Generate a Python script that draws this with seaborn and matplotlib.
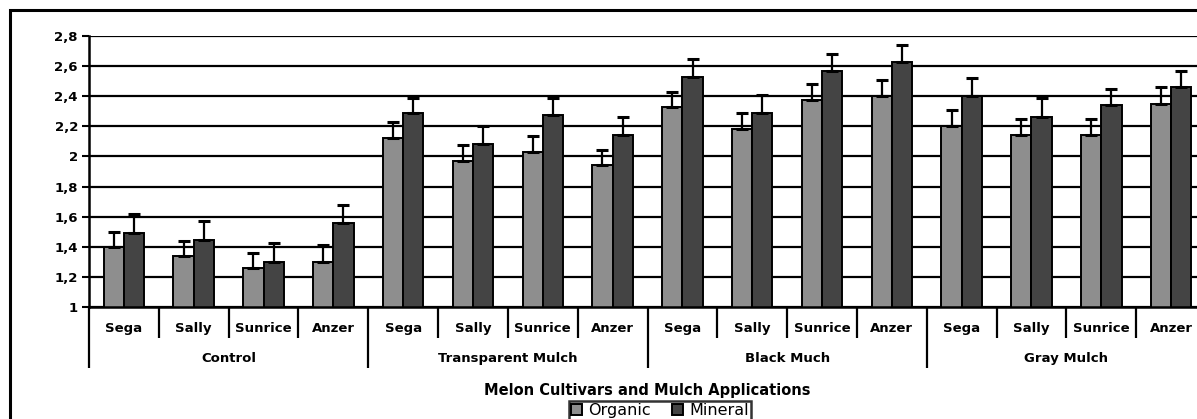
import numpy as np
import pandas as pd
import matplotlib

matplotlib.use("Agg")
import matplotlib.pyplot as plt
import matplotlib.transforms as mtransforms
from matplotlib.patches import Rectangle
import seaborn as sns

# values
mulches = ["Control", "Transparent Mulch", "Black Much", "Gray Mulch"]
cultivars = ["Sega", "Sally", "Sunrice", "Anzer"]
fertilizers = ["Organic", "Mineral"]

organic = [1.40, 1.34, 1.26, 1.30,
           2.12, 1.97, 2.03, 1.94,
           2.33, 2.18, 2.375, 2.40,
           2.20, 2.14, 2.14, 2.35]
mineral = [1.49, 1.445, 1.30, 1.555,
           2.29, 2.08, 2.275, 2.14,
           2.525, 2.29, 2.57, 2.63,
           2.40, 2.26, 2.34, 2.46]
organic_err = [0.10, 0.10, 0.10, 0.11,
               0.11, 0.105, 0.105, 0.105,
               0.10, 0.11, 0.105, 0.105,
               0.11, 0.11, 0.11, 0.11]
mineral_err = [0.13, 0.125, 0.125, 0.125,
               0.10, 0.12, 0.115, 0.12,
               0.12, 0.12, 0.11, 0.11,
               0.12, 0.13, 0.11, 0.11]

y_ticks = [1, 1.2, 1.4, 1.6, 1.8, 2, 2.2, 2.4, 2.6, 2.8]

ORGANIC_COLOR = "#8e8e8e"
MINERAL_COLOR = "#444444"
LABEL_SIZE = 9.5

W, H = 1197, 419


def main() -> None:
    keys = [f"{m}|{c}" for m in mulches for c in cultivars]
    df = pd.DataFrame({
        "key": keys * 2,
        "value": organic + mineral,
        "err": organic_err + mineral_err,
        "fertilizer": ["Organic"] * len(keys) + ["Mineral"] * len(keys),
    })

    sns.set_theme(style="white")
    plt.rcParams["font.family"] = ["DejaVu Sans"]
    plt.rcParams["text.color"] = "black"
    plt.rcParams["ytick.color"] = "black"
    plt.rcParams["ytick.labelcolor"] = "black"

    fig = plt.figure(figsize=(W / 100, H / 100), dpi=100)
    ax = fig.add_axes([89 / W, 1 - 307 / H, (1206 - 89) / W, (307 - 36) / H])

    sns.barplot(data=df, x="key", y="value", hue="fertilizer", order=keys,
                hue_order=fertilizers, palette=[ORGANIC_COLOR, MINERAL_COLOR],
                width=0.58, edgecolor="black", linewidth=1.4, errorbar=None,
                legend=False, ax=ax)

    # upper-only error bars, drawn at the bar centres
    for cont, errs in zip(ax.containers, [organic_err, mineral_err]):
        xs = [p.get_x() + p.get_width() / 2 for p in cont.patches]
        hs = [p.get_height() for p in cont.patches]
        ax.errorbar(xs, hs, yerr=[np.zeros(len(errs)), errs], fmt="none",
                    ecolor="black", elinewidth=1.6, capsize=4.5, capthick=2.2,
                    zorder=4)

    ax.set_ylim(1, 2.8)
    ax.set_xlim(-0.5, len(keys) - 0.5)
    ax.set_yticks(y_ticks)
    ax.set_yticklabels([("%g" % t).replace(".", ",") for t in y_ticks],
                       fontsize=LABEL_SIZE, fontweight="semibold")
    ax.tick_params(axis="y", length=5, width=1.5, color="black", pad=3,
                   left=True)
    ax.set_xticks([])
    ax.set_xlabel("")
    ax.set_ylabel("")
    ax.yaxis.grid(True, color="black", linewidth=1.6)
    ax.set_axisbelow(True)
    for side in ["top", "right"]:
        ax.spines[side].set_visible(False)
    for side in ["left", "bottom"]:
        ax.spines[side].set_color("black")
        ax.spines[side].set_linewidth(1.8)

    trans = mtransforms.blended_transform_factory(ax.transData, ax.transAxes)
    ax_h = 307 - 36
    short = 31 / ax_h
    long_ = 61 / ax_h
    for i in range(len(keys) + 1):
        ln = long_ if i % len(cultivars) == 0 else short
        ax.plot([i - 0.5, i - 0.5], [0, -ln], transform=trans, color="black",
                lw=1.6, clip_on=False, solid_capstyle="butt")
    for i, k in enumerate(keys):
        ax.text(i, -21 / ax_h, k.split("|")[1], transform=trans,
                ha="center", va="center", fontsize=LABEL_SIZE,
                fontweight="semibold")
    for g, m in enumerate(mulches):
        mid = g * len(cultivars) + (len(cultivars) - 1) / 2
        ax.text(mid, -51 / ax_h, m, transform=trans, ha="center",
                va="center", fontsize=LABEL_SIZE, fontweight="semibold")

    fig.text(647 / W, 1 - 390 / H, "Melon Cultivars and Mulch Applications",
             ha="center", va="center", fontsize=10.5, fontweight="bold")

    handles = [Rectangle((0, 0), 1, 1, facecolor=c, edgecolor="black", lw=1.4)
               for c in [ORGANIC_COLOR, MINERAL_COLOR]]
    leg = fig.legend(handles, fertilizers, loc="upper center",
                     bbox_to_anchor=(660 / W, 1 - 401 / H), ncol=2,
                     fontsize=11.5, frameon=True, fancybox=False,
                     handlelength=0.7, handleheight=0.7, handletextpad=0.4,
                     columnspacing=1.3, borderpad=0.15, borderaxespad=0)
    leg.get_frame().set_edgecolor("black")
    leg.get_frame().set_linewidth(1.8)

    # outer frame, cut off at the right and bottom like the source image
    fig.patches.append(Rectangle((10 / W, -0.2), 1.5, 1.2 - 10 / H,
                                 transform=fig.transFigure, fill=False,
                                 edgecolor="black", lw=2.2))

    fig.savefig("out.png", dpi=100)
    plt.close(fig)


if __name__ == "__main__":
    main()
